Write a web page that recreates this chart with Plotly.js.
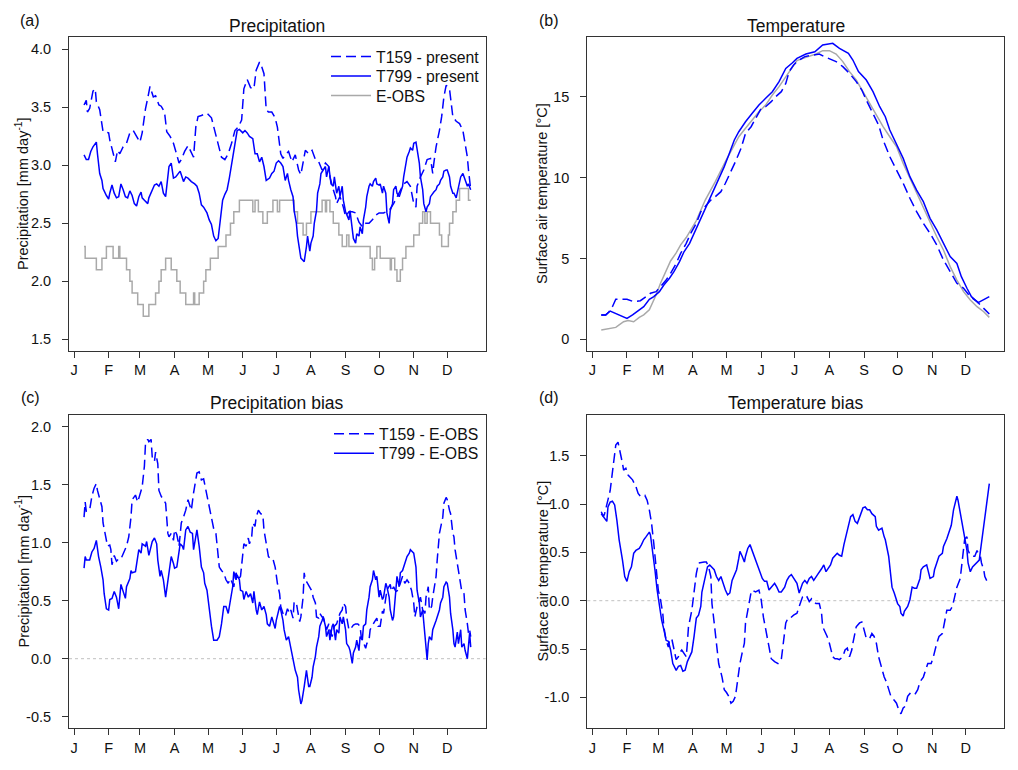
<!DOCTYPE html>
<html><head><meta charset="utf-8">
<script src="https://cdn.plot.ly/plotly-3.0.1.min.js"></script>
<style>html,body{margin:0;padding:0;background:#fff}#chart{width:1018px;height:770px}</style>
</head><body><div id="chart"></div>
<script>
// ---------- axis ticks ----------
const monthTicks = [1,32,60,91,121,152,182,213,244,274,305,335];
const monthLabels = ['J','F','M','A','M','J','J','A','S','O','N','D'];
const precipTicks = [1.5,2.0,2.5,3.0,3.5,4.0];
const tempTicks = [0,5,10,15];
const precipBiasTicks = [-0.5,0.0,0.5,1.0,1.5,2.0];
const tempBiasTicks = [-1.0,-0.5,0.0,0.5,1.0,1.5];

// ---------- (a) precipitation ----------
const aT159Day = [10,12,13,15,18,20,21,24,27,30, 32,33,36,38,40,42,45,48,51,54, 57,60,62,65,67,69,72,74,77,79,
  82,84,87,90,93,95,97,100,103,106, 108,110,112,115,120,124,127,130,133,136, 139,142,145,148,151,153,156,159,162,164,
  167,169,171,173,175,178,181,183,186,188, 190,193,196,199,202,204,207,208,211,214, 217,220,223,226,229,230,233,235,236,239,
  242,244,247,250,253,256,259,262,265,268, 271,274,278,283,287,292,296,299,302,305, 307,308,311,314,317,320,322,323,325,328,
  330,332,334,337,340,343,346,349,352,353, 354,356];
const aT159 = [3.52,3.56,3.46,3.49,3.64,3.66,3.55,3.48,3.29,3.28, 3.28,3.22,3.10,3.03,3.13,3.10,3.16,3.19,3.28,3.30, 3.25,3.20,3.28,3.49,3.58,3.68,3.59,3.60,3.52,3.51,
  3.46,3.29,3.25,3.19,3.09,3.02,3.05,3.12,3.17,3.10, 3.07,3.33,3.42,3.43,3.45,3.41,3.30,3.18,3.07,3.05, 3.10,3.19,3.30,3.33,3.39,3.66,3.74,3.67,3.66,3.82,
  3.89,3.85,3.79,3.48,3.46,3.46,3.41,3.33,3.10,3.06, 3.09,3.12,3.03,3.09,2.96,2.92,3.07,3.13,3.10,3.13, 3.05,3.03,2.96,3.02,2.99,2.90,2.79,2.73,2.67,2.73,
  2.64,2.56,2.60,2.60,2.59,2.51,2.47,2.50,2.50,2.53, 2.57,2.59,2.59,2.61,2.67,2.76,2.84,2.86,2.82,2.67, 2.64,2.82,2.90,2.96,3.05,3.06,2.93,3.02,3.16,3.30,
  3.42,3.59,3.69,3.66,3.42,3.38,3.36,3.30,3.13,3.07, 2.96,2.79];

const aT799Day = [10,12,14,16,18,21,22,24,26,27, 30,32,33,35,37,39,41,43,45,47, 49,51,53,55,57,59,61,62,64,67,
  68,70,73,75,77,79,81,83,84,86, 88,90,92,94,96,99,101,103,106,109, 111,113,115,117,120,122,124,126,128,130,
  132,134,136,138,140,143,145,147,149,152, 154,156,158,161,163,165,167,169,171,173, 176,178,180,182,184,186,188,190,192,193,
  195,197,198,200,201,203,204,206,207,209, 210,212,213,215,216,218,219,221,222,224, 226,227,229,231,233,234,236,238,239,241,
  242,244,245,247,248,250,251,253,254,256, 257,259,260,262,263,265,266,268,269,271, 272,274,275,277,278,280,281,283,284,286,
  287,289,290,292,293,295,296,298,299,301, 302,304,305,307,308,310,311,313,314,316, 317,319,320,322,323,325,326,328,329,331,
  332,334,335,337,338,340,341,343,344,346, 347,349,350,352,353,354,356];
const aT799 = [3.09,3.05,3.05,3.12,3.16,3.20,3.10,2.93,2.87,2.80, 2.74,2.71,2.76,2.83,2.76,2.72,2.73,2.84,2.79,2.73, 2.72,2.78,2.74,2.67,2.65,2.73,2.77,2.72,2.70,2.67,
  2.72,2.77,2.83,2.84,2.82,2.86,2.76,2.73,2.84,2.99, 3.02,2.89,2.90,2.93,2.95,2.86,2.90,2.89,2.86,2.84, 2.82,2.76,2.66,2.64,2.59,2.53,2.49,2.39,2.35,2.37,
  2.56,2.70,2.75,2.79,2.89,3.07,3.19,3.30,3.31,3.28, 3.30,3.28,3.25,3.23,3.10,3.10,3.03,3.07,2.99,2.87, 2.89,2.93,2.95,3.02,3.04,3.02,2.99,2.87,2.93,2.87,
  2.79,2.73,2.61,2.50,2.39,2.27,2.20,2.18,2.17,2.30, 2.39,2.26,2.33,2.39,2.50,2.61,2.76,2.84,2.93,2.96, 2.99,2.90,2.99,2.84,2.82,2.90,2.76,2.82,2.73,2.82,
  2.70,2.60,2.57,2.53,2.61,2.44,2.37,2.33,2.41,2.39, 2.47,2.41,2.53,2.64,2.73,2.82,2.84,2.82,2.86,2.89, 2.84,2.83,2.84,2.76,2.82,2.76,2.59,2.50,2.61,2.67,
  2.79,2.82,2.76,2.73,2.76,2.82,2.90,3.02,3.07,3.12, 3.15,3.13,3.19,3.20,3.13,3.02,2.90,2.79,2.67,2.60, 2.64,2.67,2.73,2.76,2.77,2.79,2.82,2.84,2.87,2.90,
  2.95,2.96,2.96,2.90,2.82,2.76,2.76,2.72,2.76,2.84, 2.90,2.93,2.90,2.84,2.82,2.84,2.79];

const aObsDay = [10,11,21,26,30,36,41,42,48,51, 53,58,63,68,74,77,79,83,88,93, 96,101,108,109,113,117,119,123,130,137,
  141,144,149,161,163,166,170,174,179,183, 185,198,201,206,209,213,223,226,227,230, 233,238,241,245,247,266,268,270,272,275,
  284,285,288,290,293,295,298,305,310,313, 315,317,320,328,330,336,337,340,343,346, 354,356];
const aObs = [2.3,2.2,2.1,2.2,2.3,2.2,2.3,2.2,2.1,2.0, 1.9,1.8,1.7,1.8,1.9,2.0,2.1,2.2,2.1,2.0, 1.9,1.8,1.9,1.8,1.9,2.0,2.1,2.2,2.3,2.4,
  2.5,2.6,2.7,2.6,2.7,2.6,2.5,2.6,2.7,2.6, 2.7,2.6,2.5,2.4,2.5,2.6,2.7,2.6,2.7,2.6, 2.5,2.4,2.3,2.4,2.3,2.2,2.1,2.2,2.3,2.2,
  2.1,2.2,2.1,2.0,2.1,2.2,2.3,2.4,2.5,2.6, 2.5,2.6,2.5,2.4,2.3,2.4,2.5,2.6,2.7,2.8, 2.7,2.7];

// ---------- (b) temperature ----------
const bObsDay = [9,16,22,25,29,33,38,43,47,52, 55,58,62,67,71,76,80,85,94,102, 111,120,126,132,138,144,150,156,162,168,
  174,180,184,192,201,207,213,219,225,231, 237,243,249,255,261,267,273,279,285,291, 297,303,309,315,321,327,333,339,345,351, 356];
const bObs = [0.58,0.68,0.74,0.89,1.09,1.16,1.09,1.36,1.51,1.82, 2.23,2.74,3.47,4.19,4.85,5.35,5.85,6.30,7.35,8.62, 9.76,11.0,11.82,12.54,13.06,13.58,14.09,14.5,15.12,15.64,
  16.26,16.84,17.25,17.45,17.66,17.87,17.87,17.66,17.19,16.57, 16.05,15.33,14.61,13.89,13.16,12.54,11.93,10.89,9.96,9.04, 8.21,7.28,6.35,5.53,4.50,3.67,2.95,2.43,2.02,1.71, 1.36];

const bT799Day = [9,13,17,22,26,32,37,41,47,52, 56,61,65,70,74,79,83,88,92,96, 101,105,110,114,119,123,128,132,138,144,
  150,156,162,168,174,180,184,192,200,207, 216,222,230,234,239,246,252,258,263,267, 273,279,285,291,297,303,309,315,321,327, 331,336,340,346,351,356];
const bT799 = [1.51,1.51,1.75,1.61,1.51,1.30,1.51,1.71,2.02,2.48, 2.64,2.95,3.36,3.78,4.19,4.81,5.42,5.94,6.56,7.18, 7.90,8.52,9.24,9.96,10.69,11.41,12.34,12.85,13.47,13.99,
  14.50,14.92,15.33,15.95,16.77,17.12,17.39,17.66,17.80,18.22, 18.32,18.01,17.70,17.29,16.57,16.05,15.33,14.40,13.78,12.96, 12.13,11.20,10.07,9.24,8.52,7.49,6.77,5.94,5.12,4.70, 3.88,3.16,2.64,2.27,2.43,2.64];

const bT159Day = [9,13,16,19,22,26,32,38,44,49, 53,58,62,67,71,76,80,85,89,94, 98,102,107,111,116,120,125,129,134,138,
  143,147,152,156,161,165,170,174,177,181, 184,191,198,204,210,219,225,231,237,242, 246,252,257,261,267,273,279,285,291,297,
  303,309,315,321,327,333,339,345,351,356];
const bT159 = [1.51,1.51,1.71,2.02,2.48,2.48,2.48,2.33,2.39,2.64, 2.85,2.95,3.26,3.67,4.09,4.70,5.32,5.94,6.56,7.18, 7.90,8.21,8.62,8.83,9.14,9.66,10.38,11.00,11.82,12.75,
  13.16,13.68,14.30,14.40,14.71,15.02,15.33,15.84,16.57,16.98, 17.19,17.50,17.60,17.66,17.45,17.19,16.88,16.46,15.95,15.43, 14.81,13.99,13.27,12.34,11.31,10.48,9.66,8.73,7.90,7.18,
  6.56,5.84,4.91,4.19,3.47,3.16,2.64,2.33,1.92,1.57];

// ---------- (c) precipitation bias ----------
const cT159Day = [10,11,12,15,17,19,21,22,24,26, 27,29,31,33,34,35,37,39,41,43, 45,48,50,52,53,56,58,60,62,64,
  65,67,68,70,71,73,74,76,77,79, 82,83,85,86,88,90,91,93,95,97, 99,101,103,105,106,108,109,111,113,115,
  117,119,121,123,126,128,131,133,135,137, 139,141,144,146,148,150,152,153,155,157, 158,160,161,163,164,166,168,170,171,173,
  175,177,179,181,
  183,185,186,188,190,192,194,195,197,198, 200,201,203,204,206,207,208,210,212,214, 215,217,218,220,221,223,224,226,227,229,
  230,232,234,236,238,239,241,242,244,245, 247,248,251,253,255,257,258,260,262,263, 265,266,268,270,272,273,275,277,278,280,
  281,284,285,287,289,291,293,295,297,299, 301,303,305,306,308,309,311,313,315,316, 318,319,321,322,325,326,328,331,332,334,
  335,337,338,340,341,342,344,345,347,348, 350,351,353,354,355,356];
const cT159 = [1.22,1.35,1.27,1.28,1.40,1.47,1.51,1.45,1.38,1.31, 1.17,1.05,0.97,0.98,0.94,0.81,0.89,0.84,0.86,0.86, 0.91,0.97,1.05,1.22,1.37,1.41,1.35,1.41,1.48,1.66,
  1.86,1.89,1.87,1.89,1.74,1.70,1.78,1.68,1.45,1.40, 1.35,1.34,1.08,1.05,1.08,1.02,1.11,1.07,0.97,1.17, 1.22,1.28,1.37,1.32,1.28,1.43,1.48,1.60,1.61,1.54,
  1.55,1.45,1.38,1.25,1.12,1.08,0.79,0.76,0.74,0.68, 0.65,0.69,0.62,0.74,0.68,0.71,0.94,0.99,0.97,1.04, 0.99,1.05,1.17,1.14,1.22,1.28,1.25,1.24,1.11,0.99,
  0.88,0.86,0.86,0.79,
  0.65,0.56,0.45,0.39,0.36,0.43,0.39,0.42,0.35,0.49, 0.48,0.42,0.32,0.36,0.53,0.74,0.68,0.65,0.61,0.58, 0.53,0.48,0.36,0.35,0.39,0.36,0.36,0.30,0.25,0.30,
  0.25,0.19,0.28,0.30,0.36,0.39,0.42,0.48,0.45,0.36, 0.25,0.25,0.29,0.30,0.30,0.28,0.19,0.13,0.09,0.13, 0.16,0.25,0.29,0.32,0.35,0.28,0.28,0.41,0.39,0.53,
  0.59,0.64,0.58,0.62,0.58,0.59,0.65,0.71,0.65,0.68, 0.65,0.59,0.48,0.36,0.45,0.48,0.53,0.42,0.39,0.53, 0.62,0.42,0.45,0.53,0.71,0.85,1.08,1.22,1.34,1.39,
  1.37,1.28,1.25,1.08,1.05,0.94,0.82,0.76,0.62,0.58, 0.56,0.42,0.30,0.22,0.25,0.19];

const cT799Day = [10,11,12,15,17,19,21,23,25,27, 28,30,32,33,35,37,39,41,43,45, 47,48,51,52,53,56,58,59,61,62,
  65,66,68,70,71,73,75,76,78,79, 81,83,85,86,88,90,91,93,95,96, 98,99,101,103,105,107,108,110,111,113,
  115,117,118,120,122,124,126,129,131,133, 135,137,139,141,143,144,146,147,149,150, 152,153,155,157,159,161,162,164,165,167,
  169,171,173,174,176,178,179,181,182,
  185,186,188,189,191,193,195,196,198,199, 201,202,204,205,207,208,209,211,212,214, 215,217,218,220,221,223,224,226,227,229,
  230,232,233,235,236,238,239,241,242,244, 245,247,248,250,251,253,254,256,257,259, 260,262,263,265,266,268,269,271,272,274,
  275,277,278,280,281,283,284,286,287,289, 290,292,293,295,296,298,299,301,302,304, 305,307,308,310,311,313,314,316,317,318,
  319,321,322,325,326,328,329,331,332,334, 335,337,338,340,341,342,344,345,347,348, 350,351,353,354,355,356];
const cT799 = [0.78,0.88,0.85,0.85,0.92,0.95,1.02,0.88,0.79,0.68, 0.56,0.43,0.42,0.51,0.52,0.58,0.53,0.43,0.64,0.58, 0.52,0.62,0.69,0.76,0.74,0.75,0.91,0.94,0.91,0.99,
  0.97,1.01,0.89,0.99,1.01,1.04,0.99,0.85,0.71,0.76, 0.68,0.53,0.68,0.71,0.88,0.82,0.78,0.79,0.94,0.99, 0.97,0.94,1.11,1.14,1.09,1.08,0.94,1.07,1.11,0.97,
  0.79,0.74,0.65,0.59,0.42,0.28,0.16,0.16,0.19,0.30, 0.45,0.45,0.39,0.51,0.62,0.75,0.68,0.72,0.68,0.59, 0.58,0.51,0.58,0.53,0.56,0.48,0.58,0.42,0.38,0.49,
  0.42,0.45,0.38,0.30,0.28,0.36,0.33,0.26,0.33,
  0.45,0.42,0.33,0.25,0.16,0.19,0.09,0.05,-0.04,-0.10, -0.16,-0.27,-0.39,-0.36,-0.24,-0.18,-0.10,-0.24,-0.24,-0.16, -0.07,0.02,0.10,0.19,0.28,0.33,0.36,0.28,0.19,0.25,
  0.16,0.28,0.30,0.16,0.25,0.22,0.36,0.30,0.36,0.25, 0.13,0.10,0.07,-0.04,0.05,0.10,0.16,0.07,0.19,0.16, 0.28,0.30,0.42,0.53,0.62,0.68,0.76,0.68,0.71,0.53,
  0.59,0.51,0.53,0.65,0.62,0.53,0.42,0.33,0.36,0.59, 0.71,0.62,0.74,0.76,0.79,0.85,0.88,0.91,0.94,0.92, 0.91,0.79,0.59,0.48,0.36,0.42,0.30,0.13,-0.01,0.13,
  0.19,0.16,0.25,0.33,0.36,0.42,0.48,0.53,0.62,0.66, 0.65,0.53,0.39,0.25,0.13,0.10,0.23,0.13,0.25,0.10, 0.13,0.07,0.00,0.13,0.22,0.10];

// ---------- (d) temperature bias ----------
const dT159Day = [9,11,12,14,17,19,21,22,24,26, 28,29,31,33,35,37,40,42,44,46, 48,50,52,54,56,58,60,62,64,65,
  67,69,70,72,74,76,78,79,81,83, 85,86,87,90,92,94,96,99,101,103, 105,107,108,110,112,114,117,119,121,123,
  125,127,129,131,133,135,137,138,141,143, 144,147,150,152,154,156,158,161,164,167, 170,172,174,176,178,181,184,186,
  189,191,193,195,197,199,201,204,206,207, 209,211,213,216,218,220,222,225,227,229, 231,233,234,236,237,240,242,244,246,249,
  251,253,255,257,260,262,264,266,268,271, 273,275,277,279,281,283,285,288,290,292, 294,297,299,301,304,306,309,311,314,316,
  318,321,323,325,327,330,332,334,336,337, 339,341,343,345,346,348,349,351,352,354,355];
const dT159 = [0.92,0.87,0.90,1.01,1.14,1.33,1.49,1.61,1.64,1.54, 1.42,1.35,1.37,1.30,1.27,1.25,1.18,1.11,1.08,1.08, 1.09,1.04,0.94,0.80,0.59,0.35,0.11,0.01,-0.13,-0.27,
  -0.41,-0.48,-0.41,-0.39,-0.51,-0.61,-0.58,-0.54,-0.51,-0.54, -0.58,-0.44,-0.27,-0.10,0.08,0.28,0.39,0.40,0.40,0.40, 0.35,0.25,-0.03,-0.23,-0.48,-0.65,-0.79,-0.92,-0.95,-0.99,
  -1.06,-1.04,-0.99,-0.82,-0.65,-0.54,-0.44,-0.23,-0.03,0.09, 0.11,0.09,0.11,0.01,-0.17,-0.30,-0.44,-0.60,-0.63,-0.65, -0.61,-0.44,-0.23,-0.18,-0.18,-0.15,-0.13,-0.06,
  0.04,0.06,0.04,-0.01,0.02,-0.01,-0.03,-0.03,-0.13,-0.27, -0.32,-0.37,-0.44,-0.58,-0.60,-0.60,-0.61,-0.58,-0.51,-0.49, -0.58,-0.51,-0.44,-0.34,-0.27,-0.23,-0.22,-0.30,-0.39,-0.39,
  -0.34,-0.37,-0.44,-0.58,-0.72,-0.79,-0.84,-0.91,-0.99,-1.03, -1.06,-1.13,-1.17,-1.11,-1.09,-0.99,-0.96,-0.98,-0.96,-0.92, -0.84,-0.79,-0.72,-0.65,-0.65,-0.58,-0.44,-0.37,-0.34,-0.23,
  -0.10,-0.10,-0.06,0.04,0.14,0.23,0.46,0.64,0.66,0.52, 0.47,0.46,0.46,0.52,0.49,0.46,0.39,0.32,0.25,0.20,0.21];

const dT799Day = [9,11,14,15,17,19,21,23,25,28, 30,32,34,36,38,40,43,45,47,49, 52,53,55,57,59,61,63,65,67,69,
  71,73,76,78,80,82,84,86,88,90, 92,94,96,98,99,102,104,106,108,110, 112,114,116,117,120,122,124,126,128,130,
  132,133,135,137,138,140,142,144,146,148, 150,153,155,157,159,161,164,166,168,170, 173,175,177,179,181,184,186,
  189,191,193,195,197,199,201,203,206,208, 210,212,214,216,218,220,222,224,226,228, 230,232,234,236,238,240,243,245,247,249,
  251,254,255,257,260,262,263,266,268,269, 271,274,276,277,279,280,283,285,287,289, 291,294,295,297,300,302,303,306,307,309,
  311,314,315,318,320,322,324,327,328,330, 332,334,336,337,339,341,343,345,347,348, 350,352,353,355,356];
const dT799 = [0.90,0.87,0.82,0.97,1.02,1.03,0.99,0.83,0.63,0.42, 0.25,0.20,0.30,0.35,0.49,0.52,0.54,0.58,0.63,0.66, 0.71,0.68,0.52,0.32,0.11,-0.06,-0.20,-0.30,-0.41,-0.42,
  -0.51,-0.65,-0.72,-0.68,-0.67,-0.73,-0.72,-0.63,-0.58,-0.53, -0.37,-0.18,-0.15,-0.06,0.09,0.25,0.35,0.37,0.35,0.32, 0.25,0.21,0.25,0.21,0.11,0.06,0.08,0.21,0.27,0.32,
  0.44,0.51,0.46,0.40,0.46,0.54,0.58,0.52,0.44,0.39, 0.33,0.23,0.20,0.20,0.11,0.14,0.18,0.14,0.09,0.09, 0.14,0.21,0.25,0.27,0.23,0.18,0.08,
  0.18,0.21,0.18,0.23,0.25,0.21,0.25,0.28,0.33,0.37, 0.30,0.33,0.37,0.44,0.47,0.49,0.47,0.46,0.58,0.68, 0.78,0.87,0.89,0.82,0.80,0.87,0.96,0.97,0.94,0.94,
  0.90,0.87,0.77,0.73,0.75,0.66,0.63,0.46,0.21,0.14, 0.08,-0.03,-0.06,-0.13,-0.16,-0.11,-0.06,0.01,0.14,0.13, 0.13,0.23,0.32,0.35,0.37,0.28,0.23,0.25,0.32,0.39,
  0.46,0.49,0.56,0.64,0.71,0.78,0.94,1.08,1.04,0.92, 0.80,0.66,0.52,0.39,0.30,0.35,0.37,0.40,0.42,0.51, 0.68,0.87,0.97,1.14,1.21];

// ---------- layout helpers ----------
const W = 1018, H = 770;
const FONT = 'Liberation Sans, Arial, Helvetica, sans-serif';
const BLUE = '#0000ff', GREY = '#a9a9a9';
const DASH = '10px,5px';
const xDomL = [69/W, 485.7/W], xDomR = [587.3/W, 1004.3/W];
const yDomT = [1-350.7/H, 1-37.3/H], yDomB = [1-728.3/H, 1-414.7/H];
const xRange = [-3.47, 369.4];

const axisBase = {showline:true, mirror:true, linecolor:'#333', linewidth:1, ticks:'outside', ticklen:6,
  tickcolor:'#333', tickwidth:1, showgrid:false, zeroline:false, fixedrange:true,
  tickfont:{family:FONT, size:14.5, color:'#111'}};
function xAxis(dom, anchor){
  return Object.assign({}, axisBase, {domain:dom, anchor:anchor, range:xRange, tickmode:'array',
    tickvals:monthTicks, ticktext:monthLabels, ticklabelstandoff:0});
}
function yAxis(dom, anchor, range, ticks, dec){
  return Object.assign({}, axisBase, {domain:dom, anchor:anchor, range:range, tickmode:'array',
    tickvals:ticks, ticktext:ticks.map(v => v.toFixed(dec)), ticklabelstandoff:8});
}

function line(x, y, xa, ya, color, dash, name, legend, shape){
  return {type:'scatter', mode:'lines', x:x, y:y, xaxis:xa, yaxis:ya, name:name,
    line:{color:color, width:1.5, dash:dash, shape:shape || 'linear'},
    showlegend: !!legend, legend: legend || 'legend', hoverinfo:'skip'};
}

// one legend box per entry so that rows sit exactly where the reference has them
const traces = [
  line(aObsDay, aObs, 'x', 'y', GREY, 'solid', 'E-OBS', 'legend4', 'hv'),
  line(aT159Day, aT159, 'x', 'y', BLUE, DASH, 'T159 - present', 'legend'),
  line(aT799Day, aT799, 'x', 'y', BLUE, 'solid', 'T799 - present', 'legend3'),
  line(bObsDay, bObs, 'x2', 'y2', GREY, 'solid', 'E-OBS'),
  line(bT159Day, bT159, 'x2', 'y2', BLUE, DASH, 'T159 - present'),
  line(bT799Day, bT799, 'x2', 'y2', BLUE, 'solid', 'T799 - present'),
  line(cT159Day, cT159, 'x3', 'y3', BLUE, DASH, 'T159 - E-OBS', 'legend2'),
  line(cT799Day, cT799, 'x3', 'y3', BLUE, 'solid', 'T799 - E-OBS', 'legend5'),
  line(dT159Day, dT159, 'x4', 'y4', BLUE, DASH, 'T159 - E-OBS'),
  line(dT799Day, dT799, 'x4', 'y4', BLUE, 'solid', 'T799 - E-OBS')
];

function ann(text, xpx, ypx, size, extra){
  return Object.assign({text:text, xref:'paper', yref:'paper', x:xpx/W, y:1-ypx/H, showarrow:false,
    xanchor:'center', yanchor:'middle', font:{family:FONT, size:size, color:'#111'}}, extra || {});
}
const midA = (37.3+350.7)/2, midC = (414.7+728.3)/2;
const annotations = [
  ann('(a)', 30, 20.5, 16), ann('(b)', 548.5, 20.5, 16), ann('(c)', 30, 397.9, 16), ann('(d)', 548.5, 397.9, 16),
  ann('Precipitation', 277.3, 25.8, 17.5), ann('Temperature', 795.8, 25.8, 17.5),
  ann('Precipitation bias', 277.3, 403.2, 17.5), ann('Temperature bias', 795.8, 403.2, 17.5),
  ann('Precipitation [mm day<sup>-1</sup>]', 22, midA, 14.5, {textangle:-90}),
  ann('Surface air temperature [°C]', 542, midA, 14.5, {textangle:-90}),
  ann('Precipitation [mm day<sup>-1</sup>]', 22, midC, 14.5, {textangle:-90}),
  ann('Surface air temperature [°C]', 542, midC, 14.5, {textangle:-90})
];

const shapes = [
  {type:'line', xref:'x3 domain', yref:'y3', x0:0, x1:1, y0:0, y1:0, layer:'below', line:{color:'#c0c0c0', width:1, dash:'dot'}},
  {type:'line', xref:'x4 domain', yref:'y4', x0:0, x1:1, y0:0, y1:0, layer:'below', line:{color:'#c0c0c0', width:1, dash:'dot'}}
];

const legendBase = {xanchor:'left', yanchor:'top', bgcolor:'rgba(0,0,0,0)', borderwidth:0, itemwidth:40,
  font:{family:FONT, size:15.8, color:'#111'}, itemclick:false, itemdoubleclick:false};
function legendAt(xpx, rowCenterPx){
  return Object.assign({}, legendBase, {x:xpx/W, y:1-(rowCenterPx-17)/H});
}

const layout = {
  width:W, height:H, margin:{l:0, r:0, t:0, b:0}, paper_bgcolor:'#fff', plot_bgcolor:'#fff',
  font:{family:FONT, size:14.5, color:'#111'}, showlegend:true,
  xaxis: xAxis(xDomL, 'y'), yaxis: yAxis(yDomT, 'x', [1.402, 4.104], precipTicks, 1),
  xaxis2: xAxis(xDomR, 'y2'), yaxis2: yAxis(yDomT, 'x2', [-0.704, 18.695], tempTicks, 0),
  xaxis3: xAxis(xDomL, 'y3'), yaxis3: yAxis(yDomB, 'x3', [-0.600, 2.103], precipBiasTicks, 1),
  xaxis4: xAxis(xDomR, 'y4'), yaxis4: yAxis(yDomB, 'x4', [-1.320, 1.924], tempBiasTicks, 1),
  legend: legendAt(326, 56.7),
  legend3: legendAt(326, 76.2),
  legend4: legendAt(326, 95.7),
  legend2: legendAt(329, 434),
  legend5: legendAt(329, 453.5),
  annotations: annotations, shapes: shapes
};

Plotly.newPlot('chart', traces, layout, {displayModeBar:false, staticPlot:true});
</script>
</body></html>
